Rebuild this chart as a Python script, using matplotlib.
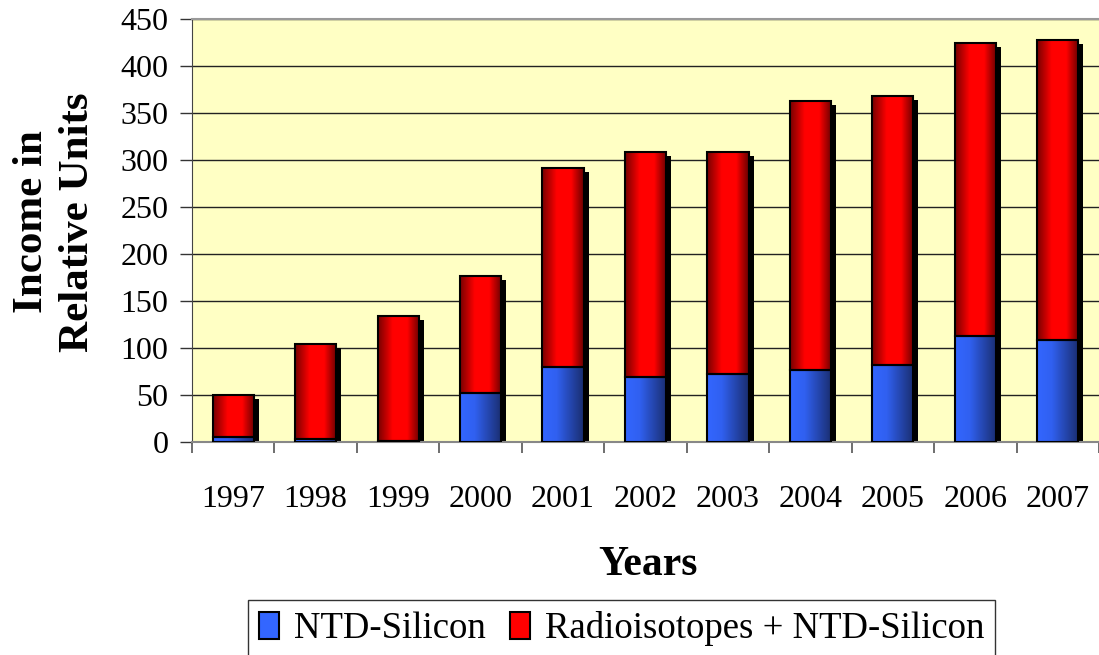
import numpy as np
import matplotlib
matplotlib.use("Agg")
import matplotlib.pyplot as plt
from matplotlib import transforms
from matplotlib.colors import LinearSegmentedColormap
from matplotlib.patches import Patch

years = ["1997", "1998", "1999", "2000", "2001", "2002",
         "2003", "2004", "2005", "2006", "2007"]
ntd_silicon = [5, 3.5, 1.5, 52, 80, 69, 72, 77, 82, 113, 108]
total = [50, 104, 134, 177, 292, 309, 309, 363, 368, 424, 428]
radio = [t - n for t, n in zip(total, ntd_silicon)]
yticks = [0, 50, 100, 150, 200, 250, 300, 350, 400, 450]

plt.rcParams["font.family"] = ["Liberation Serif", "DejaVu Serif"]

fig = plt.figure(figsize=(10.99, 6.55), dpi=100)
ax = fig.add_axes([192 / 1099, 213 / 655, 907 / 1099, 423 / 655])
ax.set_facecolor("#FFFFC4")

x = np.arange(len(years))
w = 0.5

# shadow behind each stacked column
shadow = transforms.offset_copy(ax.transData, fig=fig, x=5, y=-4, units="dots")
ax.bar(x, total, w, color="black", transform=shadow, zorder=2)

blue = ax.bar(x, ntd_silicon, w, color="#3366FF", zorder=3)
red = ax.bar(x, radio, w, bottom=ntd_silicon, color="#FF0000", zorder=3)

red_cm = LinearSegmentedColormap.from_list(
    "r", [(0, "#7A0000"), (0.35, "#FF0000"), (0.7, "#FF0000"), (1, "#6A0000")])
blue_cm = LinearSegmentedColormap.from_list(
    "b", [(0, "#3366FF"), (0.35, "#3060F0"), (1, "#1A2E70")])
grad = np.linspace(0, 1, 64).reshape(1, -1)
for bars, cm in [(blue, blue_cm), (red, red_cm)]:
    for p in bars:
        bx, by = p.get_x(), p.get_y()
        im = ax.imshow(grad, cmap=cm, aspect="auto", zorder=3.1,
                       extent=[bx, bx + p.get_width(), by, by + p.get_height()])
        im.set_clip_path(p)

# outlines
ax.bar(x, ntd_silicon, w, fill=False, edgecolor="black", lw=1.5, zorder=3.2)
ax.bar(x, radio, w, bottom=ntd_silicon, fill=False, edgecolor="black", lw=1.5, zorder=3.2)

ax.set_xlim(-0.5, len(years) - 0.5)
ax.set_ylim(0, 450)
ax.set_aspect("auto")
ax.set_yticks(yticks)
ax.set_yticklabels([str(v) for v in yticks], fontsize=23)
ax.tick_params(axis="y", length=9, width=1, direction="out", pad=8, color="#333333")

ax.set_xticks(np.arange(len(years) + 1) - 0.5)
ax.set_xticklabels([])
ax.set_xticks(x, minor=True)
ax.set_xticklabels(years, minor=True, fontsize=23)
ax.tick_params(axis="x", which="major", length=8, width=1.2, color="#555555")
ax.tick_params(axis="x", which="minor", length=0, pad=31)

ax.grid(axis="y", color="#222222", lw=1)
ax.set_axisbelow(True)
ax.spines["right"].set_visible(False)
ax.spines["top"].set_color("#999999")
ax.spines["top"].set_linewidth(1.5)
ax.spines["left"].set_color("#444444")
ax.spines["bottom"].set_color("#888888")
ax.spines["bottom"].set_linewidth(1.5)

fig.text(55 / 1099, 1 - 222 / 655, "Income in\nRelative Units", rotation=90,
         ha="center", va="center", fontsize=31, fontweight="bold", linespacing=1.25)
fig.text(648 / 1099, 1 - 565 / 655, "Years", ha="center", va="center",
         fontsize=30, fontweight="bold")

handles = [Patch(facecolor="#3366FF", edgecolor="black", lw=1.5, label="NTD-Silicon"),
           Patch(facecolor="#FF0000", edgecolor="black", lw=1.5, label="Radioisotopes + NTD-Silicon")]
leg = fig.legend(handles=handles, loc="upper left", bbox_to_anchor=(248 / 1099, 1 - 600 / 655),
                 ncol=2, fontsize=26.5, frameon=True, fancybox=False, handlelength=0.55,
                 handleheight=0.75, handletextpad=0.4, columnspacing=0.65,
                 borderpad=0.3, borderaxespad=0)
leg.get_frame().set_edgecolor("black")
leg.get_frame().set_linewidth(1)

fig.savefig("out.png", dpi=100)
